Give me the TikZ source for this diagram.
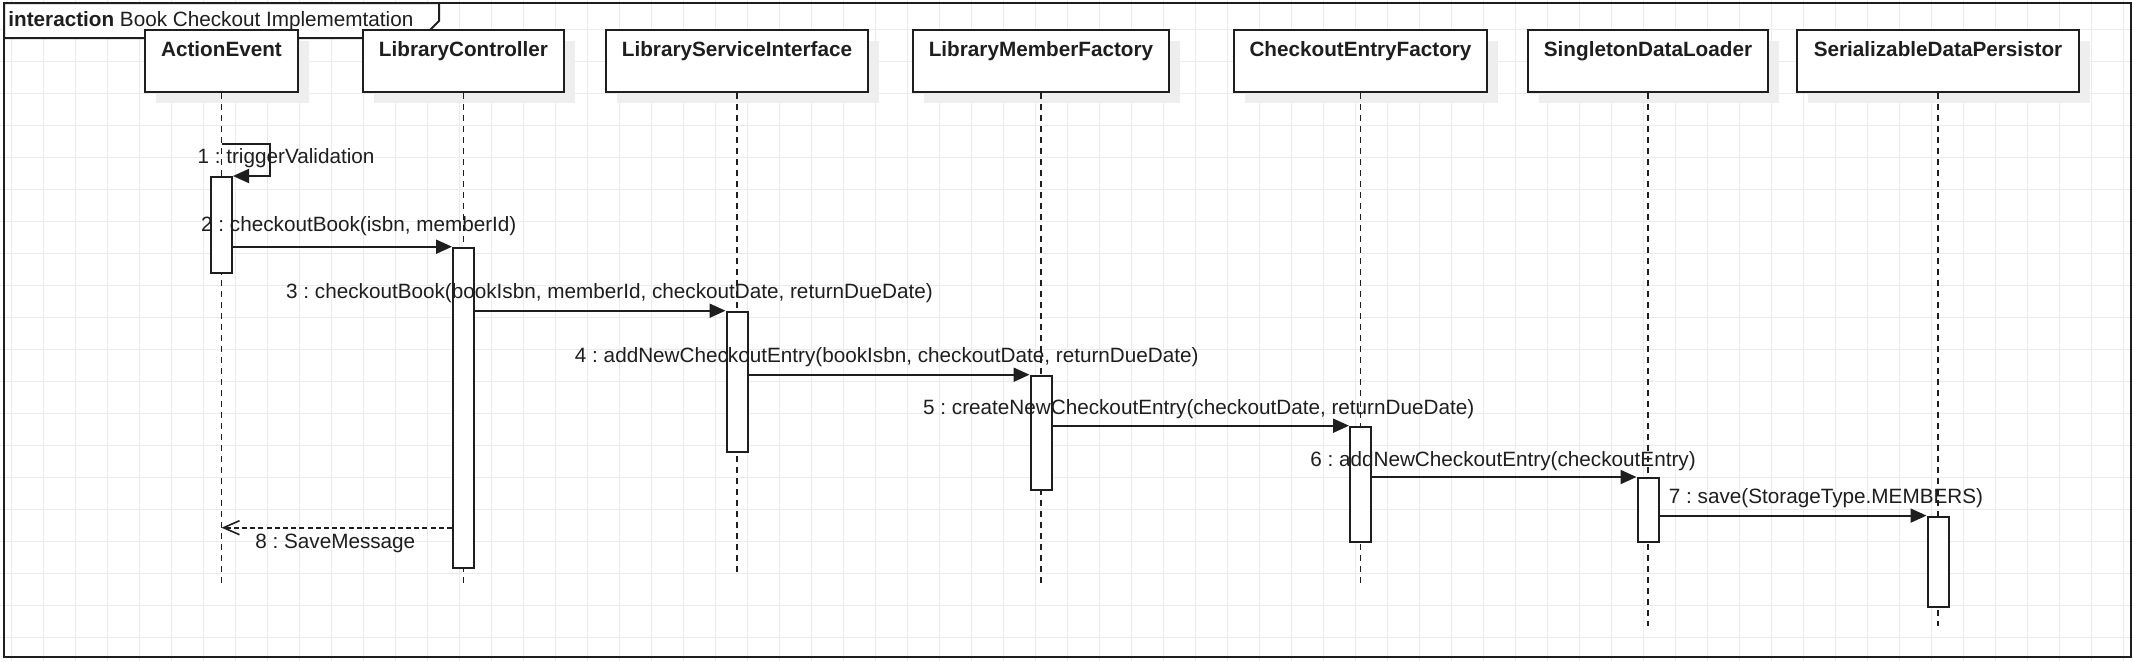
\documentclass[tikz,border=0pt]{standalone}
\usepackage{fontspec}
\setmainfont{Liberation Sans}
\usetikzlibrary{arrows.meta,shadows}
\definecolor{gridc}{HTML}{EBEBEB}
\definecolor{shadc}{HTML}{EEEEEE}
\definecolor{inkc}{HTML}{1E1E1E}
\tikzset{
  gridline/.style={draw=gridc, line width=0.5pt},
  framebox/.style={draw=inkc, line width=1pt},
  hdrbox/.style={rectangle, draw=inkc, fill=white, line width=1pt, inner sep=0pt, minimum height=31pt, anchor=north,
     general shadow={fill=shadc, shadow xshift=5.5pt, shadow yshift=-5.5pt}},
  hdrtext/.style={font=\fontsize{10.35pt}{12pt}\selectfont\bfseries, text=inkc, inner sep=0pt, anchor=base},
  lifeline/.style={draw=inkc, line width=0.8pt, dash pattern=on 3pt off 2.5pt},
  actbox/.style={rectangle, draw=inkc, fill=white, line width=1pt, inner sep=0pt, minimum width=10.5pt, anchor=north},
  msg/.style={draw=inkc, line width=1pt, -{Triangle[length=8pt,width=7pt]}},
  retmsg/.style={draw=inkc, line width=0.8pt, dash pattern=on 2.5pt off 1.6pt, -{Straight Barb[length=8pt,width=7pt]}},
  msgtext/.style={font=\fontsize{10.35pt}{12pt}\selectfont, text=inkc, inner sep=0pt, text height=7.6pt, text depth=2.2pt},
  titletext/.style={font=\fontsize{10.35pt}{12pt}\selectfont, text=inkc, inner sep=0pt, anchor=base west},
}
\begin{document}
\frenchspacing
\begin{tikzpicture}[x=0.5pt,y=-0.5pt]
\useasboundingbox (0,0) rectangle (2133,661);
\fill[white] (0,0) rectangle (2133,661);
% grid
\foreach \gx in {11.5,43.5,...,2133} {\draw[gridline] (\gx,0) -- (\gx,661);}
\foreach \gy in {29,61,...,661} {\draw[gridline] (0,\gy) -- (2133,\gy);}
% frame
\draw[framebox] (4,3) rectangle (2131,656.5);
\draw[framebox, fill=white] (4,3) -- (439,3) -- (439,21) -- (422,38) -- (4,38) -- cycle;
\node[titletext] (title) at (8,26.5) {\textbf{interaction} Book Checkout Implememtation};
% lifeline headers
\node[hdrbox, minimum width=76.5pt] (b1) at (221.5,29) {};
\node[hdrbox, minimum width=100.5pt] (b2) at (463.5,29) {};
\node[hdrbox, minimum width=131pt] (b3) at (737,29) {};
\node[hdrbox, minimum width=128.25pt] (b4) at (1041,29) {};
\node[hdrbox, minimum width=126.75pt] (b5) at (1360.5,29) {};
\node[hdrbox, minimum width=120.25pt] (b6) at (1648,29) {};
\node[hdrbox, minimum width=140.75pt] (b7) at (1938,29) {};
\node[hdrtext] (t1) at (221.5,56.5) {ActionEvent};
\node[hdrtext] (t2) at (463.5,56.5) {LibraryController};
\node[hdrtext] (t3) at (737,56.5) {LibraryServiceInterface};
\node[hdrtext] (t4) at (1041,56.5) {LibraryMemberFactory};
\node[hdrtext] (t5) at (1360.5,56.5) {CheckoutEntryFactory};
\node[hdrtext] (t6) at (1648,56.5) {SingletonDataLoader};
\node[hdrtext] (t7) at (1938,56.5) {SerializableDataPersistor};
% lifelines
\coordinate (e1) at (221.5,586.7);
\coordinate (e2) at (463.5,586.7);
\coordinate (e3) at (737,576);
\coordinate (e4) at (1041,586.7);
\coordinate (e5) at (1360.5,586.7);
\coordinate (e6) at (1648,625.7);
\coordinate (e7) at (1938,625.7);
\draw[lifeline] (b1.south) -- (e1);
\draw[lifeline] (b2.south) -- (e2);
\draw[lifeline] (b3.south) -- (e3);
\draw[lifeline] (b4.south) -- (e4);
\draw[lifeline] (b5.south) -- (e5);
\draw[lifeline] (b6.south) -- (e6);
\draw[lifeline] (b7.south) -- (e7);
% activations
\node[actbox, minimum height=48pt] (a1) at (221.5,176) {};
\node[actbox, minimum height=160pt] (a2) at (463.5,246.7) {};
\node[actbox, minimum height=70.3pt] (a3) at (737,310.7) {};
\node[actbox, minimum height=57.3pt] (a4) at (1041,374.7) {};
\node[actbox, minimum height=57.65pt] (a5) at (1360.5,425.7) {};
\node[actbox, minimum height=32.15pt] (a6) at (1648,477) {};
\node[actbox, minimum height=44.95pt] (a7) at (1938,515.6) {};
% messages
\coordinate (s1) at (221.5,144);
\draw[msg] (s1) -- ++(48.5,0) |- (a1.north east);
\draw[msg] (a1.east |- a2.north) -- (a2.north west);
\draw[msg] (a2.east |- a3.north) -- (a3.north west);
\draw[msg] (a3.east |- a4.north) -- (a4.north west);
\draw[msg] (a4.east |- a5.north) -- (a5.north west);
\draw[msg] (a5.east |- a6.north) -- (a6.north west);
\draw[msg] (a6.east |- a7.north) -- (a7.north west);
\coordinate (r8) at (221.5,527.7);
\draw[retmsg] (a2.west |- r8) -- (r8);
% message labels
\node[msgtext] (l1) at (286,158) {1 : triggerValidation};
\node[msgtext] (l2) at (358.8,225.7) {2 : checkoutBook(isbn, memberId)};
\node[msgtext] (l3) at (609.5,293.3) {3 : checkoutBook(bookIsbn, memberId, checkoutDate, returnDueDate)};
\node[msgtext] (l4) at (886.8,357.3) {4 : addNewCheckoutEntry(bookIsbn, checkoutDate, returnDueDate)};
\node[msgtext] (l5) at (1198.7,409.3) {5 : createNewCheckoutEntry(checkoutDate, returnDueDate)};
\node[msgtext] (l6) at (1503,461.3) {6 : addNewCheckoutEntry(checkoutEntry)};
\node[msgtext] (l7) at (1826,498) {7 : save(StorageType.MEMBERS)};
\node[msgtext] (l8) at (335.3,543.3) {8 : SaveMessage};
\end{tikzpicture}
\end{document}
